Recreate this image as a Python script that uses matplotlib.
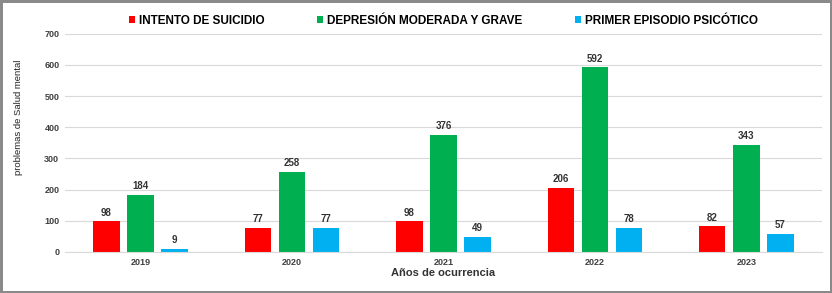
import matplotlib.pyplot as plt
import numpy as np

years = ['2019', '2020', '2021', '2022', '2023']
intento = [98, 77, 98, 206, 82]
depresion = [184, 258, 376, 592, 343]
psicotico = [9, 77, 49, 78, 57]
series_names = ['INTENTO DE SUICIDIO', 'DEPRESIÓN MODERADA Y GRAVE', 'PRIMER EPISODIO PSICÓTICO']
colors = ['#FF0000', '#00B050', '#00B0F0']

plt.rcParams['font.family'] = ['Liberation Sans', 'DejaVu Sans']

fig = plt.figure(figsize=(8.32, 2.93), dpi=100)
fig.patch.set_edgecolor('#8a8a8a')
fig.patch.set_linewidth(2.5)
ax = fig.add_axes([0.078, 0.14, 0.91, 0.745])

x = np.arange(len(years))
w = 0.175
off = 0.225
for i, (vals, name, c) in enumerate(zip([intento, depresion, psicotico], series_names, colors)):
    bars = ax.bar(x + (i - 1) * off, vals, w, color=c, label=name)
    for b, v in zip(bars, vals):
        ax.text(b.get_x() + b.get_width() / 2, v + 12, str(v), ha='center', va='bottom',
                fontsize=7, fontweight='bold', color='#333333')

ax.set_xlim(-0.5, len(years) - 0.5)
ax.set_ylim(0, 700)
ax.set_yticks(range(0, 701, 100))
ax.set_xticks(x)
ax.set_xticklabels(years)
ax.tick_params(length=0, labelsize=6.5, colors='#404040', pad=4)
for lab in ax.get_xticklabels() + ax.get_yticklabels():
    lab.set_fontweight('bold')
ax.grid(axis='y', color='#d9d9d9', linewidth=0.8)
ax.set_axisbelow(True)
for s in ['top', 'right', 'left']:
    ax.spines[s].set_visible(False)
ax.spines['bottom'].set_color('#d9d9d9')

ax.set_xlabel('Años de ocurrencia', fontsize=8, fontweight='bold', color='#333333', labelpad=1)
ax.set_ylabel('problemas de Salud mental', fontsize=6.8, color='#222222')
ax.yaxis.set_label_coords(-0.055, 0.615)

ax.legend(loc='lower center', bbox_to_anchor=(0.5, 1.0), ncol=3, frameon=False,
          prop={'weight': 'bold', 'size': 8.5}, handlelength=0.5, handleheight=0.5,
          handletextpad=0.3, columnspacing=4.5, borderaxespad=0.2)

fig.savefig('out.png', dpi=100, edgecolor=fig.get_edgecolor())
